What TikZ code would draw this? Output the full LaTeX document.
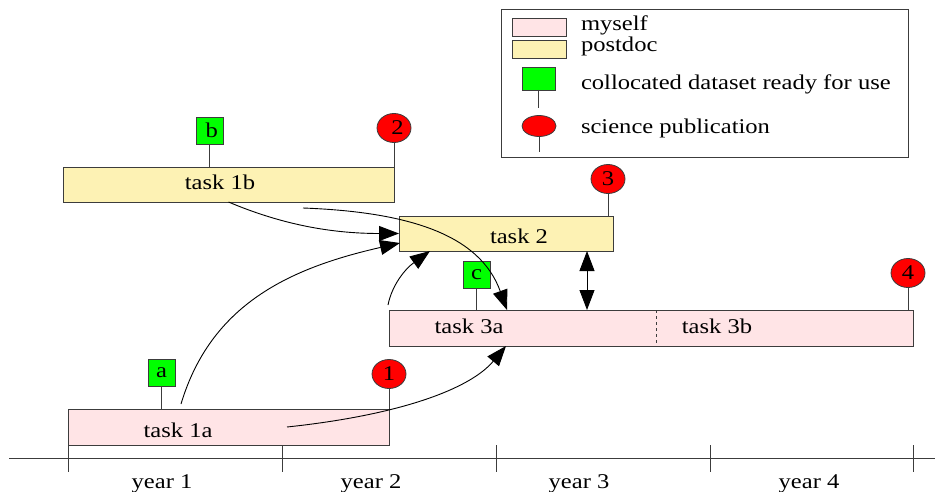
\documentclass[tikz,border=0pt]{standalone}
\usepackage{fontspec}
\setmainfont{Liberation Serif}
\usepackage{graphicx}
\usetikzlibrary{arrows.meta,shapes.geometric,calc}
\definecolor{mineFill}{RGB}{255,228,230}
\definecolor{postFill}{RGB}{253,242,180}
\definecolor{edgeGray}{RGB}{60,60,60}
% widened serif text
\newcommand{\wtext}[1]{\scalebox{1.17}[1]{#1}}
\begin{document}
\begin{tikzpicture}[x=1pt,y=-1pt,
  every node/.style={font=\fontsize{21}{25}\selectfont, inner sep=0pt, outer sep=0pt},
  bar/.style={draw=edgeGray, line width=0.8pt, rectangle},
  mine/.style={bar, fill=mineFill},
  post/.style={bar, fill=postFill},
  dataBox/.style={draw=edgeGray, line width=0.8pt, fill=green, minimum width=27pt, minimum height=27pt},
  pubOval/.style={ellipse, draw=edgeGray, line width=0.8pt, fill=red, minimum width=34pt, minimum height=29pt},
  stem/.style={draw=edgeGray, line width=0.8pt},
  link/.style={draw=black, line width=0.9pt, -{Triangle[length=20pt,width=15pt]}},
  lbl/.style={anchor=base},
  keytext/.style={anchor=base west}]

\useasboundingbox (0,0) rectangle (939,492);

% time axis
\coordinate (axL) at (9,458);
\coordinate (axR) at (935,458);
\draw[stem] (axL) -- (axR);
\foreach \tx in {68,282,496,710,913} \draw[stem] (\tx,445) -- (\tx,472);
\node[lbl] (yr1) at (162,488) {\wtext{year 1}};
\node[lbl] (yr2) at (371,488) {\wtext{year 2}};
\node[lbl] (yr3) at (579,488) {\wtext{year 3}};
\node[lbl] (yr4) at (809,488) {\wtext{year 4}};

% task bars
\node[mine, minimum width=321pt, minimum height=36pt] (t1a) at (228.5,427) {};
\node[post, minimum width=331pt, minimum height=35pt] (t1b) at (228.5,184.5) {};
\node[post, minimum width=214pt, minimum height=35pt] (t2) at (506,233.5) {};
\node[mine, minimum width=524pt, minimum height=36pt] (t3) at (651,328) {};
\draw[stem, dash pattern=on 3pt off 3pt] ($(t3.north west)+(267,0)$) -- ($(t3.south west)+(267,0)$);

\node[lbl] (l1a) at (178,437) {\wtext{task 1a}};
\node[lbl] (l1b) at (220,189) {\wtext{task 1b}};
\node[lbl] (l2) at (519,243) {\wtext{task 2}};
\node[lbl] (l3a) at (469,333) {\wtext{task 3a}};
\node[lbl] (l3b) at (717,333) {\wtext{task 3b}};

% dataset milestones
\node[dataBox] (da) at (161.5,373) {\wtext{a}};
\node[dataBox] (db) at (209.5,130.5) {\wtext{\hspace{4pt}b}};
\node[dataBox] (dc) at (476.5,274.5) {\wtext{c}};
\draw[stem] (da.south) -- (da.south |- t1a.north);
\draw[stem] (db.south) -- (db.south |- t1b.north);
\draw[stem] (dc.south) -- (dc.south |- t3.north);

% publications
\node[pubOval] (p1) at (389,374) {\wtext{1}};
\node[pubOval] (p2) at (394,128) {\wtext{\hspace{6pt}2}};
\node[pubOval] (p3) at (608,179) {\wtext{3}};
\node[pubOval] (p4) at (908,273) {\wtext{4}};
\draw[stem] (p1.south) -- (p1.south |- t1a.north);
\draw[stem] (p2.south) -- (p2.south |- t1b.north);
\draw[stem] (p3.south) -- (p3.south |- t2.north);
\draw[stem] (p4.south) -- (p4.south |- t3.north);

% dependencies
\draw[link] ($(t1a.center)+(58.5,0)$) .. controls +(113,-12) and +(-36,43) .. ($(t3.south west)+(117,0)$);
\draw[link] ($(t1a.north west)+(113,-5)$) .. controls +(30,-100) and +(-110,25) .. ($(t2.west)+(1,9.5)$);
\draw[link] (t1b.south) .. controls +(52,22) and +(-69,0) .. (t2.west);
\draw[link] ($(t1b.south)+(74.5,6)$) .. controls +(107,4) and +(-27,-75) .. ($(t3.north west)+(118,0)$);
\draw[link] ($(t3.north west)+(-1,-5)$) .. controls +(4,-20) and +(-25,18) .. ($(t2.south west)+(31,0)$);
\draw[link, {Triangle[length=20pt,width=15pt]}-{Triangle[length=20pt,width=15pt]}] ($(t2.south west)+(188,0)$) -- ($(t3.north west)+(198,0)$);

% key
\node[draw=edgeGray, line width=0.8pt, minimum width=407pt, minimum height=148pt] (legend) at (704.5,83) {};
\node[mine, minimum width=54pt, minimum height=18pt] (kMine) at (539,27) {};
\node[post, minimum width=54pt, minimum height=18pt] (kPost) at (539,49) {};
\node[dataBox, minimum width=33pt, minimum height=23pt] (kData) at (538.5,78.5) {};
\coordinate (kDataEnd) at (538.5,108);
\draw[stem] (kData.south) -- (kDataEnd);
\node[pubOval, minimum width=34pt, minimum height=21pt] (kPub) at (539,126) {};
\coordinate (kPubEnd) at (539,152);
\draw[stem] (kPub.south) -- (kPubEnd);
\node[keytext] (tMine) at (581,31) {\wtext{myself}};
\node[keytext] (tPost) at (581,52) {\wtext{postdoc}};
\node[keytext] (tData) at (581,90) {\wtext{collocated dataset ready for use}};
\node[keytext] (tPub) at (581,134) {\wtext{science publication}};
\end{tikzpicture}
\end{document}
